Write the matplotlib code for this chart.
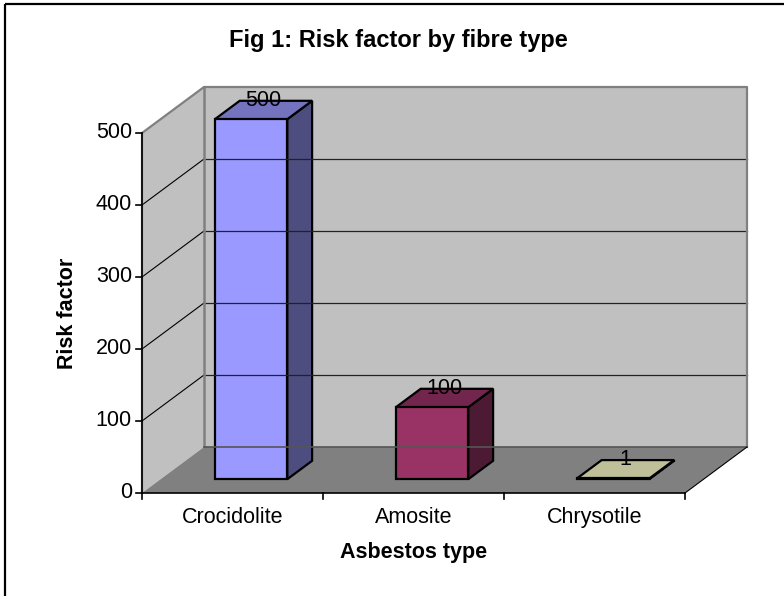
import numpy as np
import matplotlib.pyplot as plt
from matplotlib.patches import Polygon
from matplotlib.colors import to_rgb

plt.rcParams['font.family'] = ['Liberation Sans', 'DejaVu Sans']

categories = ['Crocidolite', 'Amosite', 'Chrysotile']
risk = [500, 100, 1]
y_ticks = [0, 100, 200, 300, 400, 500]
bar_colors = ['#9999FF', '#993366', '#FFFFCC']
title = 'Fig 1: Risk factor by fibre type'
x_label = 'Asbestos type'
y_label = 'Risk factor'

# pseudo-3d layout (canvas pixels)
X0, Y0 = 142, 493          # front origin
CAT_W = 181                # width of one category
VSCALE = 0.72              # pixels per unit
DX, DY = 62, -46           # full depth offset
BAR_W = 0.4                # fraction of category
D0, D1 = 0.3, 0.7          # bar depth range
YMAX = y_ticks[-1]


def proj(c, v, d):
    return X0 + c * CAT_W + d * DX, Y0 - v * VSCALE + d * DY


def shade(col, f):
    return tuple(np.array(to_rgb(col)) * f)


fig = plt.figure(figsize=(7.84, 5.96), dpi=100)
ax = fig.add_axes([0, 0, 1, 1])
ax.set_xlim(0, 784)
ax.set_ylim(596, 0)
ax.axis('off')

n = len(categories)

# walls and floor
side = [proj(0, 0, 0), proj(0, YMAX, 0), proj(0, YMAX, 1), proj(0, 0, 1)]
back = [proj(0, 0, 1), proj(0, YMAX, 1), proj(n, YMAX, 1), proj(n, 0, 1)]
floor = [proj(0, 0, 0), proj(n, 0, 0), proj(n, 0, 1), proj(0, 0, 1)]
ax.add_patch(Polygon(side, closed=True, fc='#C0C0C0', ec='none'))
ax.add_patch(Polygon(back, closed=True, fc='#C0C0C0', ec='none'))
ax.add_patch(Polygon(floor, closed=True, fc='#808080', ec='none'))

# gridlines on back wall and side wall
for v in y_ticks[1:-1]:
    xa, ya = proj(0, v, 1)
    xb, yb = proj(n, v, 1)
    ax.plot([xa, xb], [ya, yb], color='#222222', lw=0.9)
    xc, yc = proj(0, v, 0)
    ax.plot([xc, xa], [yc, ya], color='black', lw=0.8)

# wall edges
gx = [proj(0, 0, 0), proj(0, YMAX, 0), proj(0, YMAX, 1), proj(n, YMAX, 1), proj(n, 0, 1)]
ax.plot([p[0] for p in gx], [p[1] for p in gx], color='#808080', lw=1.6)
ax.plot([proj(0, 0, 1)[0], proj(0, YMAX, 1)[0]], [proj(0, 0, 1)[1], proj(0, YMAX, 1)[1]],
        color='#808080', lw=1.8)
ax.plot([proj(0, 0, 1)[0], proj(n, 0, 1)[0]], [proj(0, 0, 1)[1], proj(n, 0, 1)[1]],
        color='#555555', lw=1.2)
ax.plot([proj(n, 0, 0)[0], proj(n, 0, 1)[0]], [proj(n, 0, 0)[1], proj(n, 0, 1)[1]],
        color='black', lw=0.8)

# axes lines and ticks
ax.plot([proj(0, 0, 0)[0], proj(n, 0, 0)[0]], [Y0, Y0], color='black', lw=1.2)
ax.plot([X0, X0], [Y0, proj(0, YMAX, 0)[1]], color='black', lw=1.2)
for i in range(n + 1):
    x, y = proj(i, 0, 0)
    ax.plot([x, x], [y, y + 6], color='black', lw=1.2)
for v in y_ticks:
    x, y = proj(0, v, 0)
    ax.plot([x - 6, x], [y, y], color='black', lw=1.2)
    ax.text(x - 10, y, str(v), ha='right', va='center', fontsize=15.5)

for i, cat in enumerate(categories):
    x, y = proj(i + 0.5, 0, 0)
    ax.text(x, 523, cat, ha='center', va='baseline', fontsize=15.5)

# bars
for i, (val, col) in enumerate(zip(risk, bar_colors)):
    l = i + 0.5 - BAR_W / 2
    r = i + 0.5 + BAR_W / 2
    front = [proj(l, 0, D0), proj(l, val, D0), proj(r, val, D0), proj(r, 0, D0)]
    top = [proj(l, val, D0), proj(l, val, D1), proj(r, val, D1), proj(r, val, D0)]
    rside = [proj(r, 0, D0), proj(r, val, D0), proj(r, val, D1), proj(r, 0, D1)]
    ax.add_patch(Polygon(rside, closed=True, fc=shade(col, 0.5), ec='black', lw=1.6, joinstyle='miter'))
    ax.add_patch(Polygon(top, closed=True, fc=shade(col, 0.75), ec='black', lw=1.6, joinstyle='miter'))
    ax.add_patch(Polygon(front, closed=True, fc=col, ec='black', lw=1.6, joinstyle='miter'))
    cx, cy = proj(i + 0.5, val, (D0 + D1) / 2)
    ax.text(cx, cy - 10, str(val), ha='center', va='center', fontsize=15.5)

ax.text(398, 47, title, ha='center', va='baseline', fontsize=17, fontweight='bold')
ax.text(414, 558, x_label, ha='center', va='baseline', fontsize=15.5, fontweight='bold')
ax.text(68, (Y0 + proj(0, YMAX, 0)[1]) / 2, y_label, ha='center', va='center',
        rotation=90, fontsize=15.5, fontweight='bold')

# chart border (right/bottom edges fall outside the image)
ax.add_patch(plt.Rectangle((5, 4), 800, 620, fill=False, ec='black', lw=1.6))

fig.savefig('out.png', dpi=100)
